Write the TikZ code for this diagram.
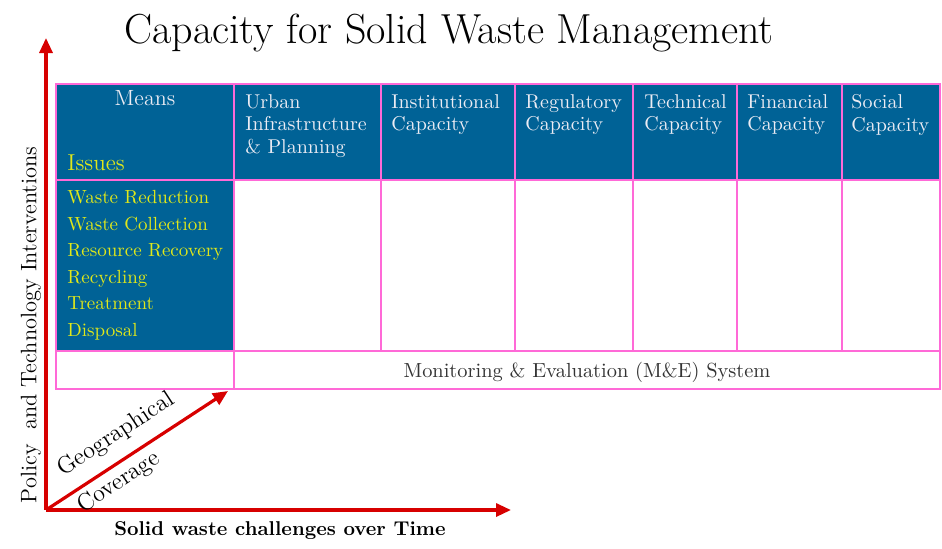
\documentclass[tikz,border=0pt]{standalone}
\usepackage{tikz}
\usetikzlibrary{arrows.meta}
\usepackage{xcolor}
\definecolor{tableblue}{RGB}{0,98,150}
\definecolor{gridpink}{RGB}{255,105,215}
\definecolor{axisred}{RGB}{215,0,0}
\definecolor{headwhite}{RGB}{236,236,244}
\definecolor{issueyellow}{RGB}{225,232,25}

\begin{document}
\begin{tikzpicture}[
    x=0.5pt, y=-0.5pt,
    gridline/.style={draw=gridpink, line width=0.8pt},
    axis/.style={-{Triangle[length=7.5pt, width=6.5pt]}, draw=axisred, line width=1.6pt},
    headtext/.style={anchor=north west, inner sep=0pt, align=left, text=headwhite, font=\fontsize{10}{11.3}\selectfont},
    issuetext/.style={anchor=north west, inner sep=0pt, align=left, text=issueyellow, font=\fontsize{9.5}{13.3}\selectfont},
    slopelabel/.style={sloped, inner sep=1pt, font=\fontsize{12}{14}\selectfont},
    every node/.append style={text=black}
]
    \useasboundingbox (0,0) rectangle (942,548);

    % Title
    \node[anchor=base, font=\fontsize{21}{24}\selectfont] (title) at (449,43) {Capacity for Solid Waste Management};

    % Blue header row and issue column
    \fill[tableblue] (56,84) rectangle (940,180);
    \fill[tableblue] (56,180) rectangle (234,351);

    % Grid lines
    \draw[gridline] (56,84) rectangle (940,389);
    \draw[gridline] (56,180) -- (940,180);
    \draw[gridline] (56,351) -- (940,351);
    \draw[gridline] (234,84) -- (234,389);
    \foreach \x in {381,515,633,737,842}
        \draw[gridline] (\x,84) -- (\x,351);

    % Means / Issues corner
    \node[anchor=base, text=headwhite, font=\fontsize{11}{13}\selectfont] (means) at (145,105) {Means};
    \node[anchor=base west, inner sep=0pt, text=issueyellow, font=\fontsize{11.5}{13}\selectfont] (issues) at (67,170) {Issues};

    % Column headers
    \node[headtext] (urban) at (245,94) {Urban\\Infrastructure\\\& Planning};
    \node[headtext] (institutional) at (391,94) {Institutional\\Capacity};
    \node[headtext] (regulatory) at (525,94) {Regulatory\\Capacity};
    \node[headtext] (technical) at (644,94) {Technical\\Capacity};
    \node[headtext] (financial) at (747,94) {Financial\\Capacity};
    \node[headtext] (social) at (851,94) {Social\\Capacity};

    % Issue rows
    \node[issuetext] (issuelist) at (67,190) {Waste Reduction\\Waste Collection\\Resource Recovery\\Recycling\\Treatment\\Disposal};

    % M&E row
    \node[anchor=base, font=\fontsize{10.2}{12}\selectfont, text=black!80] (monitoring) at (587,377) {Monitoring \& Evaluation (M\&E) System};

    % Axes
    \coordinate (origin) at (46,510);
    \coordinate (ytip) at (46,38);
    \coordinate (xtip) at (511,510);
    \coordinate (ztip) at (228,391);
    \draw[axis] (origin) -- (ytip);
    \draw[axis] (origin) -- (xtip);
    \draw[axis] (origin) --
        node[slopelabel, pos=0.46, above=5pt] (geographical) {Geographical}
        node[slopelabel, pos=0.35, below=1.2pt] (coverage) {Coverage}
        (ztip);

    % Axis labels
    \node[rotate=90, font=\fontsize{11.2}{13}\selectfont] (policy) at (31,325) {Policy\ \ and Technology Interventions};
    \node[anchor=base, font=\fontsize{10}{12}\selectfont\bfseries] (challenges) at (280,535) {Solid waste challenges over Time};
\end{tikzpicture}
\end{document}
